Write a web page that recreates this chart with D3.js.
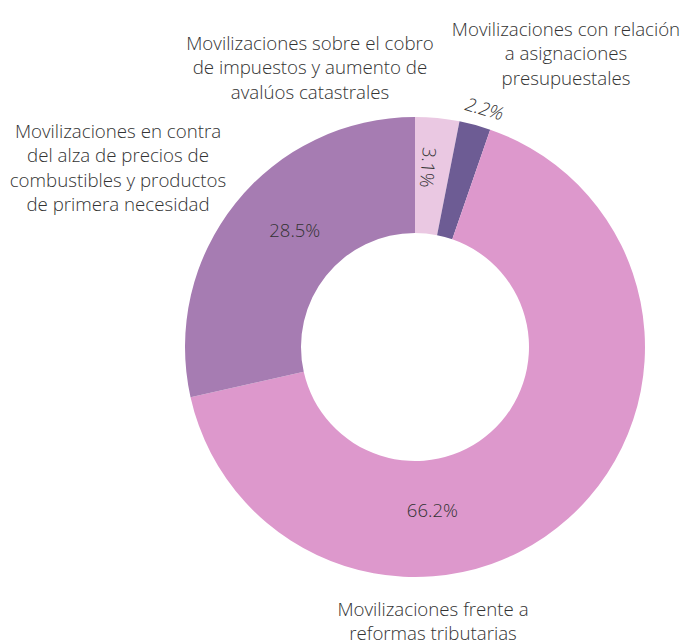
<!DOCTYPE html>
<html>
<head>
<meta charset="utf-8">
<script src="https://cdn.jsdelivr.net/npm/d3@7"></script>
<style>
  body { margin: 0; background: #fff; }
  text { font-family: "Open Sans", sans-serif; font-weight: 300; fill: #333; }
</style>
</head>
<body>
<div id="chart"></div>
<script>
var categories = [
  "Movilizaciones sobre el cobro de impuestos y aumento de avalúos catastrales",
  "Movilizaciones con relación a asignaciones presupuestales",
  "Movilizaciones frente a reformas tributarias",
  "Movilizaciones en contra del alza de precios de combustibles y productos de primera necesidad"
];
var values = [3.1, 2.2, 66.2, 28.5];
var percentLabels = ["3.1%", "2.2%", "66.2%", "28.5%"];
var colors = ["#eac8e2", "#6d5c94", "#dd98cc", "#a67cb2"];

// category label text broken into lines as in the picture
var labelLines = [
  ["Movilizaciones sobre el cobro", "de impuestos y aumento de", "avalúos catastrales"],
  ["Movilizaciones con relación", "a asignaciones", "presupuestales"],
  ["Movilizaciones frente a", "reformas tributarias"],
  ["Movilizaciones en contra", "del alza de precios de", "combustibles y productos", "de primera necesidad"]
];

var width = 697, height = 641;
var cx = 415, cy = 347;
var outerR = 230, innerR = 114;

var svg = d3.select("#chart").append("svg")
  .attr("width", width)
  .attr("height", height);

var g = svg.append("g").attr("transform", "translate(" + cx + "," + cy + ")");

var pie = d3.pie().sort(null).value(function(d) { return d; });
var arc = d3.arc().innerRadius(innerR).outerRadius(outerR);
var arcs = pie(values);

g.selectAll("path")
  .data(arcs)
  .enter()
  .append("path")
  .attr("d", arc)
  .attr("fill", function(d, i) { return colors[i]; });

// percent labels: radius and angle shift per slice, like the original layout
var pctRadius = [180, 249, 163, 168];
var pctShift = [-0.02, 0.02, 0, 0.098];

g.selectAll(".pct")
  .data(arcs)
  .enter()
  .append("text")
  .attr("class", "pct")
  .attr("text-anchor", "middle")
  .attr("dominant-baseline", "central")
  .style("font-size", "18.5px")
  .style("font-style", function(d, i) { return i == 1 ? "italic" : "normal"; })
  .attr("transform", function(d, i) {
    var a = (d.startAngle + d.endAngle) / 2 + pctShift[i];
    if (i == 2) a = Math.PI * 0.966; // big slice label sits near the bottom
    var x = Math.sin(a) * pctRadius[i], y = -Math.cos(a) * pctRadius[i];
    var deg = a * 180 / Math.PI;
    var rot = 0;
    if (i == 0) rot = deg + 90;
    if (i == 1) rot = deg;
    return "translate(" + x + "," + y + ") rotate(" + rot + ")";
  })
  .text(function(d, i) { return percentLabels[i]; });

// category labels
var labelPos = [[310, 42], [566, 28], [433, 608], [118, 130]];
var lineH = 24.5;

labelLines.forEach(function(lines, i) {
  var t = svg.append("text")
    .attr("text-anchor", "middle")
    .style("font-size", "18.7px");
  lines.forEach(function(line, j) {
    t.append("tspan")
      .attr("x", labelPos[i][0])
      .attr("y", labelPos[i][1] + j * lineH)
      .attr("dominant-baseline", "central")
      .text(line);
  });
});
</script>
</body>
</html>
